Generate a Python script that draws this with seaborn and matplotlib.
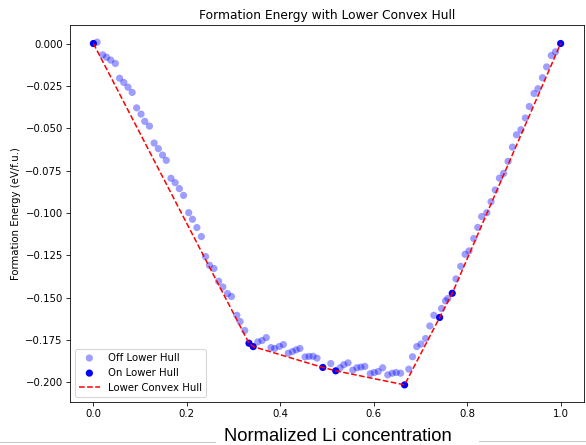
import matplotlib
matplotlib.use('Agg')
import matplotlib.pyplot as plt
import seaborn as sns
import pandas as pd
from matplotlib.lines import Line2D

# Dữ liệu
off_x = [0.008, 0.020, 0.028, 0.037, 0.047, 0.056, 0.065, 0.074, 0.083, 0.0925,
         0.102, 0.110, 0.120, 0.130, 0.139, 0.148, 0.156, 0.166, 0.175, 0.184,
         0.193, 0.204, 0.212, 0.2215, 0.231, 0.240, 0.2485, 0.258, 0.268, 0.277,
         0.287, 0.2955, 0.307, 0.314, 0.324, 0.352, 0.361, 0.370, 0.380, 0.388,
         0.398, 0.4066, 0.417, 0.426, 0.434, 0.442, 0.453, 0.4615, 0.470, 0.4786,
         0.508, 0.528, 0.536, 0.545, 0.555, 0.564, 0.5726, 0.581, 0.5926, 0.601,
         0.6096, 0.619, 0.630, 0.6396, 0.648, 0.6575, 0.675, 0.683, 0.692, 0.701,
         0.711, 0.720, 0.7286, 0.745, 0.7536, 0.7585, 0.776, 0.786, 0.7955, 0.804,
         0.814, 0.8226, 0.831, 0.842, 0.851, 0.860, 0.869, 0.878, 0.8875, 0.8967,
         0.9054, 0.915, 0.9245, 0.933, 0.943, 0.9515, 0.961, 0.970, 0.980, 0.989]
off_y = [0.0008, -0.0067, -0.0081, -0.0098, -0.0118, -0.0205, -0.0230, -0.0258, -0.0289, -0.0380,
         -0.0417, -0.0460, -0.0488, -0.0588, -0.0621, -0.0659, -0.0690, -0.0796, -0.0822, -0.0857,
         -0.0897, -0.0999, -0.1038, -0.1087, -0.1140, -0.1258, -0.1310, -0.1329, -0.1404, -0.1438,
         -0.1477, -0.1494, -0.1605, -0.1642, -0.1695, -0.1762, -0.1754, -0.1737, -0.1796, -0.1801,
         -0.1789, -0.1778, -0.1829, -0.1819, -0.1809, -0.1801, -0.1851, -0.1848, -0.1847, -0.1858,
         -0.1890, -0.1915, -0.1897, -0.1886, -0.1929, -0.1915, -0.1911, -0.1907, -0.1950, -0.1943,
         -0.1937, -0.1915, -0.1957, -0.1947, -0.1943, -0.1947, -0.1923, -0.1850, -0.1790, -0.1775,
         -0.1742, -0.1668, -0.1605, -0.1565, -0.1520, -0.1506, -0.1390, -0.1316, -0.1245, -0.1225,
         -0.1152, -0.1086, -0.1022, -0.0999, -0.0934, -0.0865, -0.0795, -0.0767, -0.0696, -0.0612,
         -0.0539, -0.0509, -0.0440, -0.0372, -0.0295, -0.0267, -0.0202, -0.0138, -0.0071, -0.0049]

hull_x = [0.0, 0.333, 0.342, 0.491, 0.5186, 0.666, 0.741, 0.768, 1.0]
hull_y = [0.0, -0.1770, -0.1790, -0.1913, -0.1933, -0.2016, -0.1618, -0.1475, 0.0]

df_off = pd.DataFrame({'x': off_x, 'y': off_y})
df_hull = pd.DataFrame({'x': hull_x, 'y': hull_y})

fig = plt.figure(figsize=(586 / 73.25, 445 / 73.25), dpi=73.25)
ax = fig.add_subplot(111)
fig.subplots_adjust(left=0.1195, right=0.9966, top=0.9438, bottom=0.0966)

sns.scatterplot(data=df_off, x='x', y='y', color='blue', alpha=0.38, s=50,
                edgecolor='none', label='Off Lower Hull', ax=ax)
sns.scatterplot(data=df_hull, x='x', y='y', color='blue', s=50,
                edgecolor='none', label='On Lower Hull', ax=ax)
sns.lineplot(data=df_hull, x='x', y='y', color='red', linestyle='--',
             estimator=None, label='Lower Convex Hull', ax=ax)

ax.set_title('Formation Energy with Lower Convex Hull')
ax.set_ylabel('Formation Energy (eV/f.u.)')
ax.set_xlabel('Normalized Li concentration', fontsize=18, family='Liberation Sans')
ax.xaxis.set_label_coords(0.522, -0.068)
ax.legend(loc='lower left')

# viền xám phía dưới (ảnh chụp màn hình)
fig.add_artist(Line2D([0, 215 / 586], [3 / 445, 3 / 445], color='#c8c8c8', lw=1))
fig.add_artist(Line2D([479 / 586, 1], [4 / 445, 4 / 445], color='#c8c8c8', lw=1))

plt.savefig('out.png', dpi=73.25)
